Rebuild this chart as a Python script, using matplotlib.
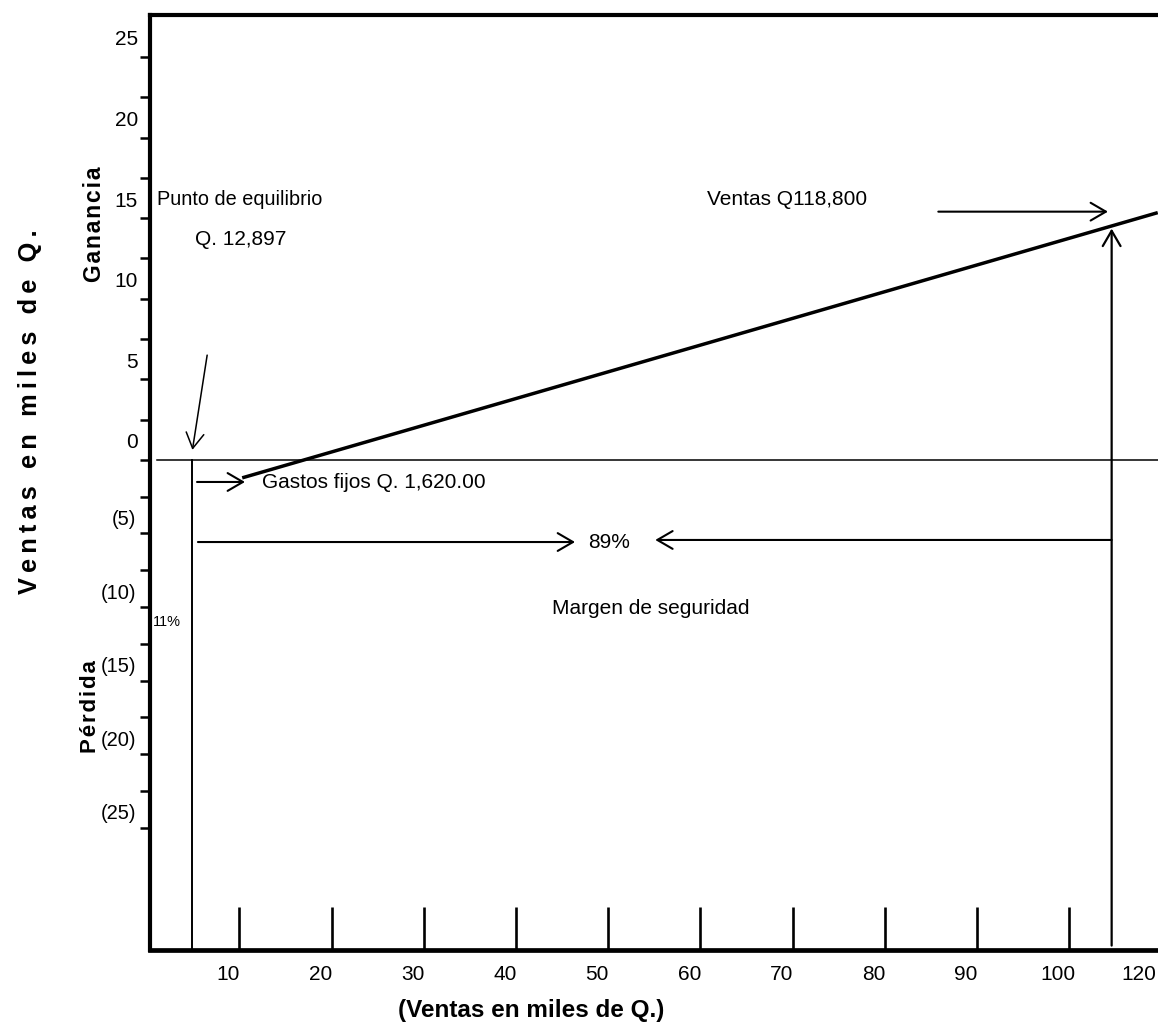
import numpy as np
import matplotlib
matplotlib.use("Agg")
import matplotlib.pyplot as plt
import matplotlib.transforms as mtransforms

# ---------------- data ----------------
y_tick_values = [25, 20, 15, 10, 5, 0, -5, -10, -15, -20, -25]
y_tick_labels = ["25", "20", "15", "10", "5", "0", "(5)", "(10)", "(15)", "(20)", "(25)"]
y_minor_values = [22.5, 17.5, 12.5, 7.5, 2.5, -2.5, -7.5, -12.5, -17.5, -22.5]

x_tick_values = [10, 20, 30, 40, 50, 60, 70, 80, 90, 100]
x_label_values = [10, 20, 30, 40, 50, 60, 70, 80, 90, 100, 108.7]
x_label_texts = ["10", "20", "30", "40", "50", "60", "70", "80", "90", "100", "120"]

# profit line (stylised)
profit_x = [10.3, 109.6]
profit_y = [-1.22, 15.34]

breakeven_x = 4.9          # vertical line of break-even point
sales_x = 104.6            # vertical arrow at sales level
sales_y = 14.35

# ---------------- figure ----------------
NARROW = ["Liberation Sans Narrow", "Liberation Sans", "DejaVu Sans"]
WIDE = ["Liberation Sans", "DejaVu Sans"]

W, H = 1158, 1026
fig = plt.figure(figsize=(W / 100, H / 100), dpi=100)
fig.patch.set_facecolor("white")

left_px, right_px, top_px, bottom_px = 150, 1160, 15, 950
ax = fig.add_axes([left_px / W, 1 - bottom_px / H,
                   (right_px - left_px) / W, (bottom_px - top_px) / H])

k = 14.7 / 16.1
def fwd(y):
    y = np.asarray(y, dtype=float)
    return np.where(y >= 0, y, y * k)
def inv(u):
    u = np.asarray(u, dtype=float)
    return np.where(u >= 0, u, u / k)

ax.set_yscale("function", functions=(fwd, inv))
ax.set_xlim(0.3, 0.3 + (right_px - left_px) / 9.22)
ax.set_ylim(-33.3, 27.6)

for s in ["left", "top"]:
    ax.spines[s].set_linewidth(3.0)
ax.spines["bottom"].set_linewidth(3.4)
ax.spines["right"].set_visible(False)

# y ticks: outward small ticks every 2.5
ax.set_yticks(sorted(y_tick_values + y_minor_values))
ax.set_yticklabels([])
ax.tick_params(axis="y", direction="out", length=7.5, width=1.8, color="black")
ax.yaxis.set_minor_locator(matplotlib.ticker.NullLocator())

# x ticks: inward tall ticks
ax.set_xticks(x_tick_values)
ax.set_xticklabels([])
ax.tick_params(axis="x", direction="in", length=31, width=1.9, color="black")
ax.xaxis.set_minor_locator(matplotlib.ticker.NullLocator())

TICK_FS = 15
TXT_FS = 15

# y tick labels (placed slightly above their ticks, as in the drawing)
ytrans = mtransforms.blended_transform_factory(ax.transAxes, ax.transData)
for v, lab in zip(y_tick_values, y_tick_labels):
    dy = 17 if v >= 0 else 14
    dx = -12 if v >= 0 else -14
    t = mtransforms.offset_copy(ytrans, fig=fig, x=dx, y=dy, units="dots")
    ax.text(0, v, lab, transform=t, ha="right", va="center",
            fontsize=TICK_FS if v >= 0 else 14.5, family=NARROW)

# x tick labels (slightly left of ticks)
xtrans = mtransforms.blended_transform_factory(ax.transData, ax.transAxes)
for v, lab in zip(x_label_values, x_label_texts):
    t = mtransforms.offset_copy(xtrans, fig=fig, x=-11, y=-25, units="dots")
    ax.text(v, 0, lab, transform=t, ha="center", va="center",
            fontsize=TICK_FS, family=NARROW, clip_on=False)

# zero line
ax.plot([1.06, 112], [0, 0], color="black", lw=1.1)

# break-even vertical
ax.plot([breakeven_x, breakeven_x], [0, -33.3], color="black", lw=1.4)

# profit line
ax.plot(profit_x, profit_y, color="black", lw=2.5, solid_capstyle="butt")

def arrow(x0, y0, x1, y1, lw=1.5):
    ax.annotate("", xy=(x1, y1), xytext=(x0, y0),
                arrowprops=dict(arrowstyle="->,head_length=0.55,head_width=0.32",
                                lw=lw, color="black", shrinkA=0, shrinkB=0,
                                mutation_scale=20))

# annotations / arrows
arrow(6.5, 6.5, breakeven_x, 0.62, lw=1.1)          # punto de equilibrio
arrow(5.4, -1.5, 10.6, -1.5)                         # gastos fijos
arrow(5.5, -5.58, 46.4, -5.58)                       # 89% right
arrow(sales_x, -5.44, 55.1, -5.44)                   # 89% left
arrow(85.8, 15.4, 104.2, 15.4)                       # ventas
arrow(sales_x, -33.0, sales_x, sales_y, lw=1.6)      # vertical sales arrow

ax.text(1.06, 16.15, "Punto de equilibrio", ha="left", va="center",
        fontsize=14.3, family=NARROW)
ax.text(10.17, 13.66, "Q. 12,897", ha="center", va="center",
        fontsize=TXT_FS, family=NARROW)
ax.text(69.4, 16.15, "Ventas Q118,800", ha="center", va="center",
        fontsize=TXT_FS, family=NARROW)
ax.text(12.45, -1.56, "Gastos fijos Q. 1,620.00", ha="left", va="center",
        fontsize=TXT_FS, family=NARROW)
ax.text(50.1, -5.58, "89%", ha="center", va="center",
        fontsize=TXT_FS, family=NARROW)
ax.text(54.6, -10.07, "Margen de seguridad", ha="center", va="center",
        fontsize=TXT_FS, family=NARROW)
ax.text(0.63, -11.0, "11%", ha="left", va="center",
        fontsize=10.5, family=NARROW)

# axis titles
def spaced(s, sep="\u2009"):
    return sep.join(s)

fig.text(30 / W, 1 - 412 / H, spaced("Ventas en miles de Q."), rotation=90,
         ha="center", va="center", fontsize=18.3, fontweight="bold", family=WIDE)
fig.text(94 / W, 1 - 224 / H, spaced("Ganancia", "\u200a"), rotation=90,
         ha="center", va="center", fontsize=16.5, fontweight="bold", family=WIDE)
fig.text(91 / W, 1 - 707 / H, spaced("Pérdida", "\u200a"), rotation=90,
         ha="center", va="center", fontsize=16, fontweight="bold", family=WIDE)
fig.text(531 / W, 1 - 1010 / H, "(Ventas en miles de Q.)",
         ha="center", va="center", fontsize=17.5, fontweight="bold", family=NARROW)

fig.savefig("out.png", dpi=100, facecolor="white")
